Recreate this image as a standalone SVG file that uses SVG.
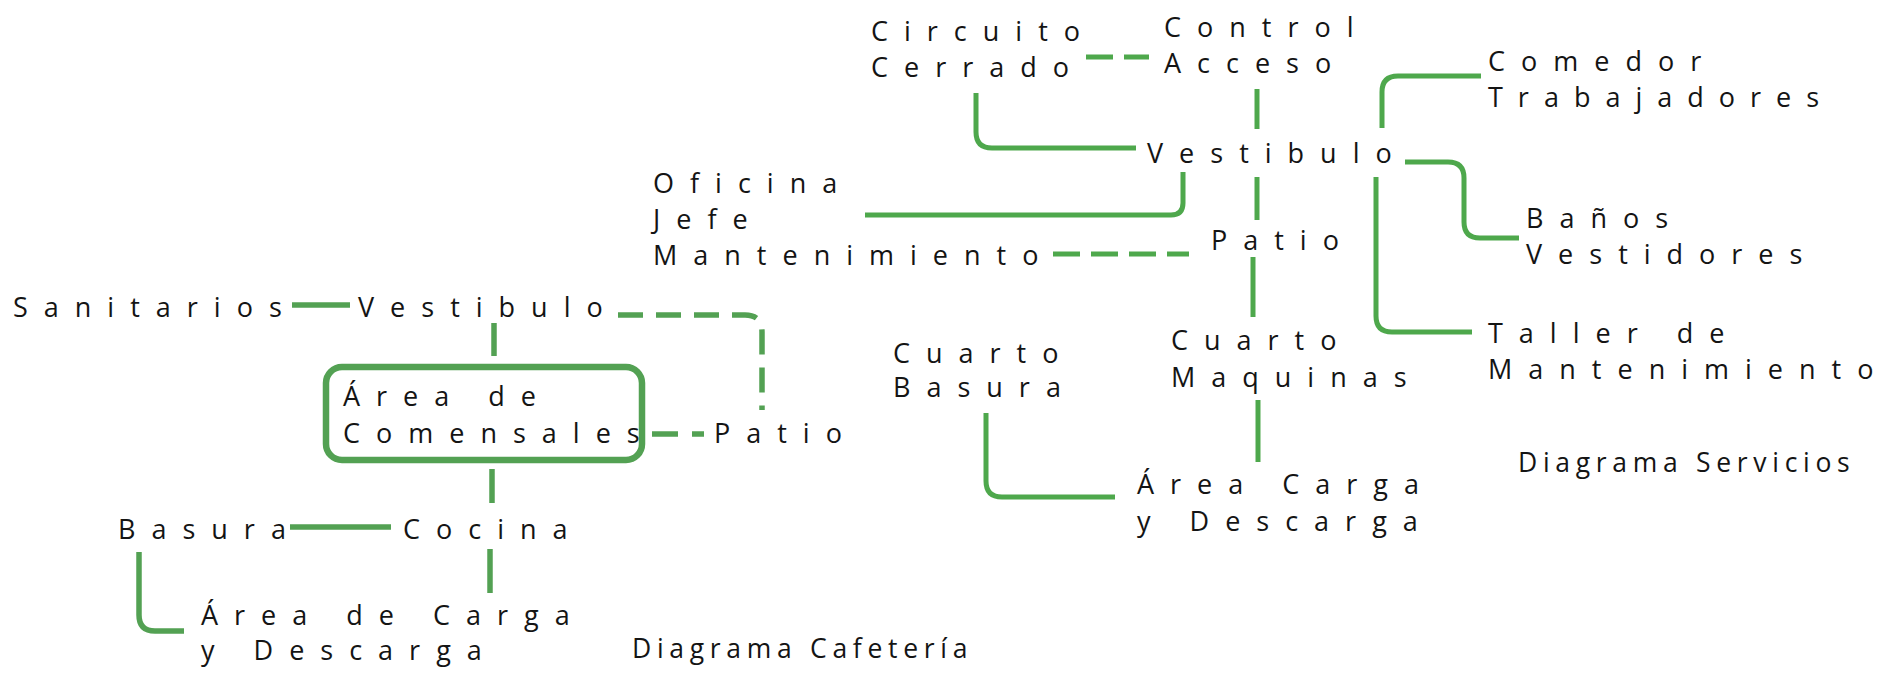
<svg xmlns="http://www.w3.org/2000/svg" width="1892" height="678" viewBox="0 0 1892 678">
<style>
text{font-family:"Open Sans","Noto Sans","DejaVu Sans",sans-serif;fill:#141414}
.n{font-size:27px;letter-spacing:16px}
.t{font-size:26.5px;letter-spacing:5.7px}
.c{fill:none;stroke:#53a153;stroke-width:5.5;stroke-linecap:butt}
.r{fill:none;stroke:#4ea84c;stroke-width:5}
.d{stroke-dasharray:25 13}
.d2{stroke-dasharray:27 11}
</style>
<rect width="1892" height="678" fill="#fff"/>
<g id="connectors">
<path class="c" d="M292,305H350"/>
<path class="c d" d="M618,315H745Q762,315 762,332V410"/>
<path class="c" d="M494,323V356"/>
<path class="c" d="M652,434H704" stroke-dasharray="26 14"/>
<path class="c" d="M492,469V503"/>
<path class="c" d="M290,527H391"/>
<path class="c" d="M490,549V593"/>
<path class="c" d="M139,552V615Q139,631 155,631H184"/>
<path class="r d2" d="M1086,57H1149"/>
<path class="r" d="M976,93V132Q976,148 992,148H1136"/>
<path class="r" d="M1257,89V129"/>
<path class="r" d="M1183,172V203Q1183,215 1171,215H865"/>
<path class="r" d="M1257,177V220"/>
<path class="r d2" d="M1053,254H1189"/>
<path class="r" d="M1253,257V317"/>
<path class="r" d="M1258,400V462"/>
<path class="r" d="M986,413V481Q986,497 1002,497H1115"/>
<path class="r" d="M1382,128V92Q1382,76 1398,76H1481"/>
<path class="r" d="M1405,162H1448Q1464,162 1464,178V222Q1464,238 1480,238H1519"/>
<path class="r" d="M1376,177V316Q1376,332 1392,332H1472"/>
</g>
<g id="sanitarios"><text class="n" x="13" y="317">Sanitarios</text></g>
<g id="vestibulo-cafeteria"><text class="n" x="358" y="317">Vestibulo</text></g>
<g id="area-comensales"><rect x="326" y="367" width="316" height="93" rx="16" fill="none" stroke="#53a153" stroke-width="6.5"/><text class="n" x="343" y="406">Área de</text><text class="n" x="343" y="443">Comensales</text></g>
<g id="patio-cafeteria"><text class="n" x="714" y="443">Patio</text></g>
<g id="basura"><text class="n" x="118" y="539">Basura</text></g>
<g id="cocina"><text class="n" x="403" y="539">Cocina</text></g>
<g id="carga-cafeteria"><text class="n" x="201" y="625">Área de Carga</text><text class="n" x="201" y="660">y Descarga</text></g>
<g id="titulo-cafeteria"><text class="t" x="632" y="658">Diagrama Cafetería</text></g>
<g id="circuito"><text class="n" x="871" y="41">Circuito</text><text class="n" x="871" y="77">Cerrado</text></g>
<g id="control"><text class="n" x="1164" y="37">Control</text><text class="n" x="1164" y="73">Acceso</text></g>
<g id="vestibulo-servicios"><text class="n" x="1147" y="163">Vestibulo</text></g>
<g id="comedor"><text class="n" x="1488" y="71">Comedor</text><text class="n" x="1488" y="107" style="letter-spacing:15px">Trabajadores</text></g>
<g id="oficina"><text class="n" x="653" y="193">Oficina</text><text class="n" x="653" y="229">Jefe</text><text class="n" x="653" y="265">Mantenimiento</text></g>
<g id="patio-servicios"><text class="n" x="1211" y="250">Patio</text></g>
<g id="banos"><text class="n" x="1526" y="228">Baños</text><text class="n" x="1526" y="264">Vestidores</text></g>
<g id="taller"><text class="n" x="1488" y="343">Taller de</text><text class="n" x="1488" y="379">Mantenimiento</text></g>
<g id="cuarto-maquinas"><text class="n" x="1171" y="350">Cuarto</text><text class="n" x="1171" y="387">Maquinas</text></g>
<g id="cuarto-basura"><text class="n" x="893" y="363">Cuarto</text><text class="n" x="893" y="397">Basura</text></g>
<g id="carga-servicios"><text class="n" x="1137" y="494">Área Carga</text><text class="n" x="1137" y="531">y Descarga</text></g>
<g id="titulo-servicios"><text class="t" x="1518" y="472">Diagrama Servicios</text></g>
</svg>
